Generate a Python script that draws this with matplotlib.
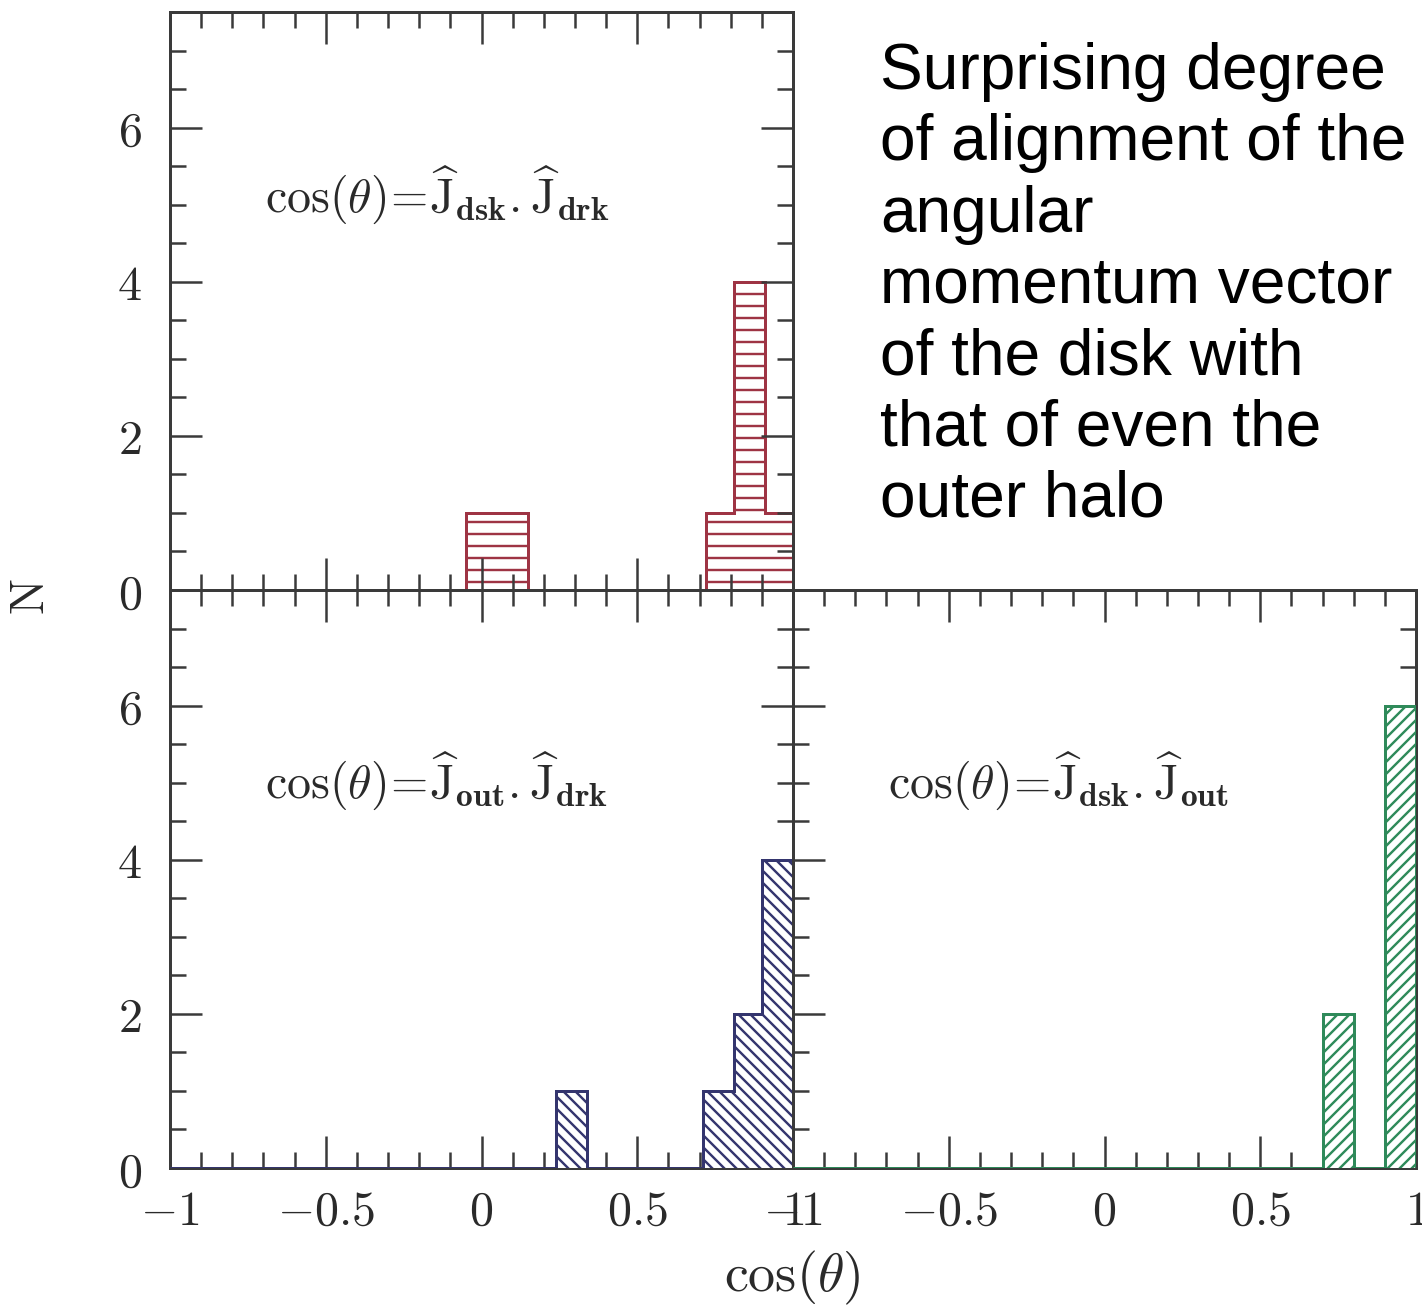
import matplotlib
matplotlib.use("Agg")
import matplotlib.pyplot as plt
from matplotlib.ticker import MultipleLocator, FuncFormatter

# ---- data (step histograms: bin edges and counts) ----
disk_dark_edges = [-1.0, -0.05, 0.15, 0.72, 0.81, 0.91, 1.0]
disk_dark_counts = [0, 1, 0, 1, 4, 1]

out_dark_edges = [-1.0, 0.24, 0.34, 0.71, 0.81, 0.90, 1.0]
out_dark_counts = [0, 1, 0, 1, 2, 4]

disk_out_edges = [-1.0, 0.70, 0.80, 0.90, 1.0]
disk_out_counts = [0, 2, 0, 6]

labels = [r"$\cos(\theta)\!=\!\widehat{\mathrm{J}}_{\mathbf{dsk}}.\widehat{\mathrm{J}}_{\mathbf{drk}}$",
          r"$\cos(\theta)\!=\!\widehat{\mathrm{J}}_{\mathbf{out}}.\widehat{\mathrm{J}}_{\mathbf{drk}}$",
          r"$\cos(\theta)\!=\!\widehat{\mathrm{J}}_{\mathbf{dsk}}.\widehat{\mathrm{J}}_{\mathbf{out}}$"]

note = ("Surprising degree\nof alignment of the\nangular\nmomentum vector\n"
        "of the disk with\nthat of even the\nouter halo")

plt.rcParams["mathtext.fontset"] = "cm"
plt.rcParams["hatch.linewidth"] = 2.4

DPI = 72
W, H = 1422, 1305
fig = plt.figure(figsize=(W / DPI, H / DPI), dpi=DPI)

L, AW = 170 / W, 623 / W
B1, AH = 1 - 1168 / H, 578 / H
B2 = 1 - 590 / H

ax_top = fig.add_axes([L, B2, AW, AH])
ax_bl = fig.add_axes([L, B1, AW, AH])
ax_br = fig.add_axes([L + AW, B1, AW, AH])

spine_col = "#3a3a3a"
text_col = "#2a2a2a"

def fmt(v, pos):
    if abs(v) < 1e-9:
        return r"$0$"
    return r"$%g$" % v

for ax in (ax_top, ax_bl, ax_br):
    ax.set_xlim(-1, 1)
    ax.set_ylim(0, 7.5)
    ax.xaxis.set_major_locator(MultipleLocator(0.5))
    ax.xaxis.set_minor_locator(MultipleLocator(0.1))
    ax.yaxis.set_major_locator(MultipleLocator(2))
    ax.yaxis.set_minor_locator(MultipleLocator(0.5))
    ax.tick_params(which="both", direction="in", top=True, right=True,
                   color=spine_col, width=2.5, labelcolor=text_col)
    ax.tick_params(which="major", length=32, labelsize=48)
    ax.tick_params(which="minor", length=16)
    ax.tick_params(axis="y", which="major", pad=28)
    ax.tick_params(axis="x", which="major", pad=20)
    for s in ax.spines.values():
        s.set_color(spine_col)
        s.set_linewidth(3)
    ax.xaxis.set_major_formatter(FuncFormatter(fmt))
    ax.yaxis.set_major_formatter(FuncFormatter(fmt))

ax_top.tick_params(labelbottom=False)
ax_br.tick_params(labelleft=False)

ax_top.stairs(disk_dark_counts, disk_dark_edges, fill=True, facecolor="white",
              edgecolor="#9e3444", hatch="-", linewidth=3, zorder=1)
ax_bl.stairs(out_dark_counts, out_dark_edges, fill=True, facecolor="white",
             edgecolor="#34356e", hatch="\\\\", linewidth=3, zorder=3)
ax_br.stairs(disk_out_counts, disk_out_edges, fill=True, facecolor="white",
             edgecolor="#2f8a5a", hatch="//", linewidth=3, zorder=3)

for ax, lab, y in ((ax_top, labels[0], 5.13), (ax_bl, labels[1], 5.03), (ax_br, labels[2], 5.03)):
    ax.text(-0.695, y, lab, fontsize=48, ha="left", va="center", color=text_col)

fig.text(30 / W, 1 - 597 / H, r"$\mathrm{N}$", rotation=90, fontsize=48,
         ha="center", va="center", color=text_col)
fig.text(792 / W, 1 - 1278 / H, r"$\cos(\theta)$", fontsize=54,
         ha="center", va="center", color=text_col)

fig.text(880 / W, 1 - 42 / H, note, fontsize=64, family="Liberation Sans",
         ha="left", va="top", linespacing=1.24, color="black")

fig.savefig("out.png", dpi=DPI)
